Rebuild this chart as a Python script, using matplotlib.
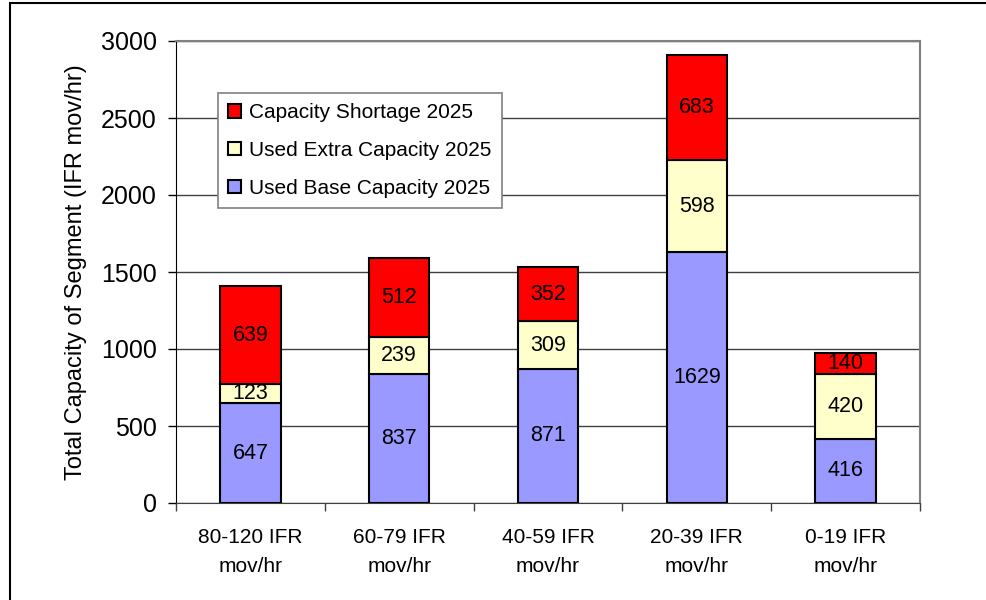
import matplotlib.pyplot as plt
from matplotlib.patches import Rectangle
import numpy as np

plt.rcParams['font.family'] = ['Liberation Sans', 'DejaVu Sans']

categories = ["80-120 IFR\nmov/hr", "60-79 IFR\nmov/hr", "40-59 IFR\nmov/hr",
              "20-39 IFR\nmov/hr", "0-19 IFR\nmov/hr"]
base = [647, 837, 871, 1629, 416]
extra = [123, 239, 309, 598, 420]
shortage = [639, 512, 352, 683, 140]

series_names = ["Used Base Capacity 2025", "Used Extra Capacity 2025", "Capacity Shortage 2025"]
colors = ["#9999FF", "#FFFFCC", "#FF0000"]

fig = plt.figure(figsize=(9.86, 6.0), dpi=100)
ax = fig.add_axes([176 / 986, 97 / 600, 744 / 986, 462 / 600])

x = np.arange(len(categories))
width = 0.405
bottom = np.zeros(len(categories))
handles = []
for vals, name, col in zip([base, extra, shortage], series_names, colors):
    bars = ax.bar(x, vals, width, bottom=bottom, color=col, edgecolor="black",
                  linewidth=1.5, label=name, zorder=3)
    for xi, b, v in zip(x, bottom, vals):
        ax.text(xi, b + v / 2, str(v), ha="center", va="center", fontsize=15.5, zorder=4)
    bottom += np.array(vals)
    handles.append(bars)

ax.set_xlim(-0.5, len(categories) - 0.5)
ax.set_ylim(0, 3000)
ax.set_yticks(np.arange(0, 3001, 500))
ax.yaxis.grid(True, color="#404040", linewidth=1.0, zorder=0)
ax.tick_params(axis="y", labelsize=18, length=6, width=1, pad=8)

ax.set_xticks(x)
ax.set_xticklabels(categories, fontsize=15, linespacing=1.65)
ax.set_xticks(np.arange(-0.5, len(categories)), minor=True)
ax.tick_params(axis="x", which="major", length=0, pad=18)
ax.tick_params(axis="x", which="minor", length=6, width=1, color="#404040")

ax.set_ylabel("Total Capacity of Segment (IFR mov/hr)", fontsize=17, labelpad=10)

for side in ["top", "right"]:
    ax.spines[side].set_color("#808080")
    ax.spines[side].set_linewidth(1.5)
ax.spines["left"].set_color("black")
ax.spines["bottom"].set_color("#404040")

leg = fig.legend(handles[::-1], series_names[::-1], loc="upper left",
                 bbox_to_anchor=(218 / 986, 1 - 93 / 600), borderaxespad=0,
                 fontsize=15, fancybox=False, framealpha=1, edgecolor="#808080",
                 handlelength=0.6, handleheight=0.6, handletextpad=0.4,
                 labelspacing=0.9, borderpad=0.5)
leg.get_frame().set_linewidth(1.2)

fig.patches.append(Rectangle((10 / 986, -0.1), 1.2, 0.1 + 597 / 600,
                             transform=fig.transFigure, fill=False,
                             edgecolor="black", linewidth=1.5))

fig.savefig("out.png", dpi=100)
plt.close(fig)
